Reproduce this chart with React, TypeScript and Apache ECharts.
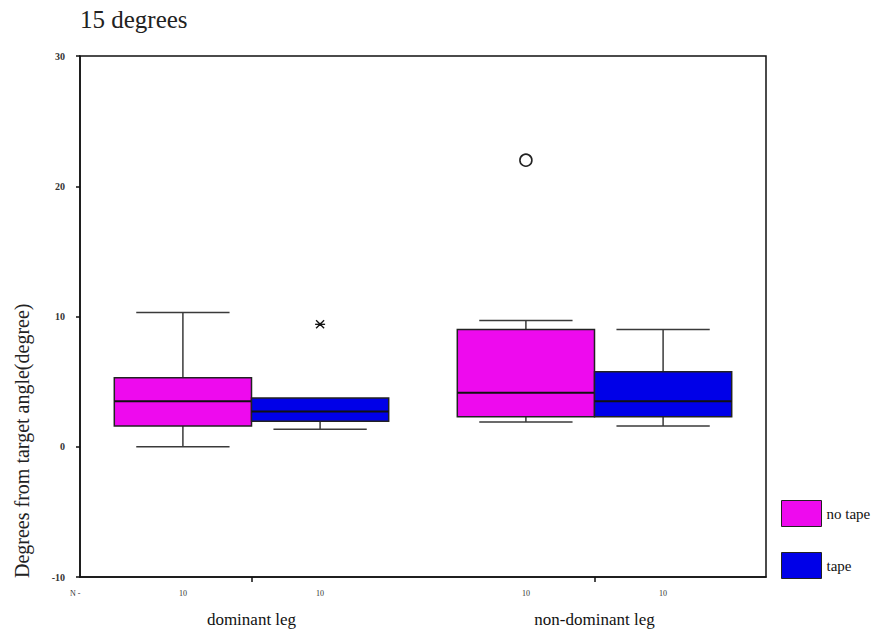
import React, { useEffect, useRef } from "react";
import * as echarts from "echarts";

// Leg groups along the x axis and the two taping conditions drawn in each.
const categories = ["dominant leg", "non-dominant leg"];
const groups = ["no tape", "tape"];
const groupColors = ["#ee0aee", "#0000e8"];

// Five-number summaries per leg: [lower whisker, Q1, median, Q3, upper whisker]
const noTapeStats = [
  [0.0, 1.6, 3.5, 5.3, 10.3],
  [1.9, 2.3, 4.15, 9.0, 9.7],
];
const tapeStats = [
  [1.35, 1.95, 2.7, 3.75, 3.75],
  [1.6, 2.3, 3.5, 5.75, 9.0],
];

// Points beyond the whiskers: [leg index, value]
const noTapeOutliers = [[1, 22.0]]; // drawn as open circles
const tapeExtremes = [[0, 9.4]]; // drawn as asterisks

// Sample size under each box
const noTapeN = [10, 10];
const tapeN = [10, 10];

// Y axis
const yMin = -10;
const yMax = 30;
const yStep = 10;

const BOX_FRACTION = 0.4;
const CAP_FRACTION = 0.68;

function boxSeries(name: string, gi: number, stats: number[][], counts: number[]) {
  return {
    name,
    type: "custom",
    itemStyle: { color: groupColors[gi] },
    encode: { x: 0, y: [1, 2, 3, 4, 5] },
    data: stats.map((s, i) => [i, ...s, counts[i]]),
    renderItem: (params: any, api: any) => {
      const cat = api.value(0);
      const lo = api.value(1);
      const q1 = api.value(2);
      const med = api.value(3);
      const q3 = api.value(4);
      const hi = api.value(5);
      const n = api.value(6);
      const band = api.size([1, 0])[0];
      const bw = band * BOX_FRACTION;
      const center = api.coord([cat, 0])[0];
      const x0 = gi === 0 ? center - bw : center;
      const xm = x0 + bw / 2;
      const cap = (bw * CAP_FRACTION) / 2;
      const y = (v: number) => api.coord([cat, v])[1];
      const wStyle = { stroke: "#3a3a3a", lineWidth: 1.5 };
      const children: any[] = [];
      if (hi > q3) {
        children.push({ type: "line", shape: { x1: xm, y1: y(q3), x2: xm, y2: y(hi) }, style: wStyle });
        children.push({ type: "line", shape: { x1: xm - cap, y1: y(hi), x2: xm + cap, y2: y(hi) }, style: wStyle });
      }
      if (lo < q1) {
        children.push({ type: "line", shape: { x1: xm, y1: y(q1), x2: xm, y2: y(lo) }, style: wStyle });
        children.push({ type: "line", shape: { x1: xm - cap, y1: y(lo), x2: xm + cap, y2: y(lo) }, style: wStyle });
      }
      children.push({
        type: "rect",
        shape: { x: x0, y: y(q3), width: bw, height: y(q1) - y(q3) },
        style: { fill: groupColors[gi], stroke: "#222", lineWidth: 1.5 },
      });
      children.push({
        type: "line",
        shape: { x1: x0, y1: y(med), x2: x0 + bw, y2: y(med) },
        style: { stroke: "#111", lineWidth: 2 },
      });
      children.push({
        type: "text",
        x: xm,
        y: y(yMin) + 16,
        style: {
          text: String(n),
          fontSize: 8,
          fontFamily: "Liberation Serif",
          fill: "#333",
          align: "center",
          verticalAlign: "middle",
        },
      });
      return { type: "group", children };
    },
  };
}

function outlierSeries(name: string, gi: number, pts: number[][], kind: "circle" | "star") {
  return {
    name,
    type: "custom",
    encode: { x: 0, y: 1 },
    data: pts,
    renderItem: (params: any, api: any) => {
      const cat = api.value(0);
      const v = api.value(1);
      const band = api.size([1, 0])[0];
      const bw = band * BOX_FRACTION;
      const center = api.coord([cat, 0])[0];
      const xm = (gi === 0 ? center - bw : center) + bw / 2;
      const py = api.coord([cat, v])[1];
      if (kind === "circle") {
        return {
          type: "circle",
          shape: { cx: xm, cy: py, r: 6 },
          style: { fill: "#fff", stroke: "#222", lineWidth: 1.6 },
        };
      }
      const r = 5;
      const d = r * 0.8;
      const st = { stroke: "#111", lineWidth: 1.3 };
      return {
        type: "group",
        children: [
          { type: "line", shape: { x1: xm - r, y1: py, x2: xm + r, y2: py }, style: st },
          { type: "line", shape: { x1: xm - d, y1: py - d, x2: xm + d, y2: py + d }, style: st },
          { type: "line", shape: { x1: xm - d, y1: py + d, x2: xm + d, y2: py - d }, style: st },
          { type: "circle", shape: { cx: xm, cy: py, r: 1.6 }, style: { fill: "#111" } },
        ],
      };
    },
  };
}

export default function App() {
  const ref = useRef<HTMLDivElement>(null);

  useEffect(() => {
    document.body.style.margin = "0";
    if (!ref.current) return;
    const chart = echarts.init(ref.current, undefined, { renderer: "svg" });
    chart.setOption({
      animation: false,
      backgroundColor: "#fff",
      title: {
        text: "15 degrees",
        left: 80,
        top: 7,
        padding: 0,
        textStyle: { fontFamily: "Liberation Serif", fontSize: 25, fontWeight: "normal", color: "#222" },
      },
      legend: {
        data: groups,
        orient: "vertical",
        left: 781,
        top: 500,
        padding: 0,
        itemWidth: 40,
        itemHeight: 26,
        itemGap: 25,
        icon: "rect",
        itemStyle: { borderColor: "#222", borderWidth: 1 },
        textStyle: { fontFamily: "Liberation Serif", fontSize: 15, color: "#111" },
        selectedMode: false,
      },
      grid: {
        left: 80,
        right: 118,
        top: 56,
        bottom: 58,
        show: true,
        borderColor: "#111",
        borderWidth: 1.5,
      },
      xAxis: {
        type: "category",
        data: categories,
        axisLine: { show: true, onZero: false, lineStyle: { color: "#111", width: 1.5 } },
        axisTick: { show: true, alignWithLabel: true, length: 5, lineStyle: { color: "#111", width: 1.5 } },
        axisLabel: {
          margin: 34,
          fontFamily: "Liberation Serif",
          fontSize: 17,
          color: "#111",
        },
        splitLine: { show: false },
      },
      yAxis: {
        type: "value",
        min: yMin,
        max: yMax,
        interval: yStep,
        axisLine: { show: true, lineStyle: { color: "#111", width: 1.5 } },
        axisTick: { show: true, length: 4, lineStyle: { color: "#111", width: 1.5 } },
        axisLabel: {
          margin: 15,
          fontFamily: "Liberation Serif",
          fontSize: 10,
          fontWeight: "bold",
          color: "#333",
        },
        splitLine: { show: false },
      },
      graphic: [
        {
          type: "text",
          x: 22,
          y: 578,
          rotation: Math.PI / 2,
          style: {
            text: "Degrees from target angle(degree)",
            fontFamily: "Liberation Serif",
            fontSize: 20,
            fill: "#222",
            align: "left",
            verticalAlign: "middle",
          },
        },
        {
          type: "text",
          x: 70,
          y: 593,
          style: {
            text: "N -",
            fontFamily: "Liberation Serif",
            fontSize: 8,
            fill: "#333",
            verticalAlign: "middle",
          },
        },
      ],
      series: [
        boxSeries(groups[0], 0, noTapeStats, noTapeN),
        boxSeries(groups[1], 1, tapeStats, tapeN),
        outlierSeries("no tape outliers", 0, noTapeOutliers, "circle"),
        outlierSeries("tape extremes", 1, tapeExtremes, "star"),
      ],
    });
    return () => chart.dispose();
  }, []);

  return <div ref={ref} style={{ width: 884, height: 635 }} />;
}
